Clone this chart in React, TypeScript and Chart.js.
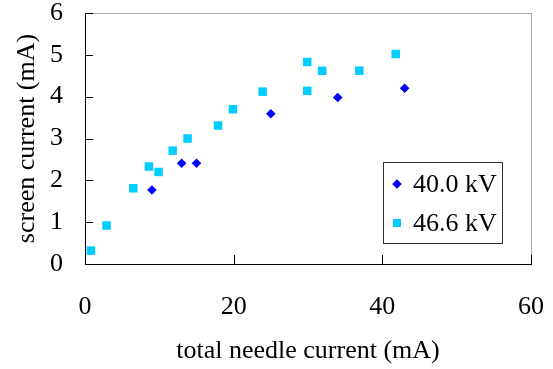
import React, { useEffect, useRef } from "react";
import { Chart, registerables } from "chart.js";

Chart.register(...registerables);

const series40x = [9, 13, 15, 25, 34, 43];
const series40y = [1.77, 2.41, 2.41, 3.59, 3.98, 4.2];
const series466x = [0.8, 2.9, 6.5, 8.6, 9.9, 11.8, 13.8, 17.9, 19.9, 23.9, 29.9, 29.9, 31.9, 36.9, 41.8];
const series466y = [0.32, 0.92, 1.81, 2.33, 2.2, 2.71, 3.0, 3.31, 3.7, 4.12, 4.83, 4.14, 4.62, 4.62, 5.02];
const seriesLabels = ["40.0 kV", "46.6 kV"];
const xTicks = [0, 20, 40, 60];
const yTicks = [0, 1, 2, 3, 4, 5, 6];
const xTitle = "total needle current (mA)";
const yTitle = "screen current (mA)";

const FONT = "'Liberation Serif', 'Times New Roman', serif";
const BLUE = "#0000FF";
const CYAN = "#00CCFF";

const framePlugin = {
  id: "frame",
  afterDatasetsDraw(chart: any) {
    const { ctx, chartArea: a, scales } = chart;
    const xs = scales.x;
    const ys = scales.y;
    ctx.save();
    ctx.lineWidth = 1;
    ctx.strokeStyle = "#aaaaaa";
    ctx.beginPath();
    ctx.moveTo(a.left, a.top + 0.5);
    ctx.lineTo(a.right + 0.5, a.top + 0.5);
    ctx.lineTo(a.right + 0.5, a.bottom);
    ctx.stroke();
    ctx.strokeStyle = "#000000";
    ctx.beginPath();
    ctx.moveTo(a.left + 0.5, a.top);
    ctx.lineTo(a.left + 0.5, a.bottom + 0.5);
    ctx.lineTo(a.right + 1, a.bottom + 0.5);
    ctx.stroke();
    ctx.beginPath();
    yTicks.forEach((v) => {
      const py = Math.round(ys.getPixelForValue(v)) + 0.5;
      ctx.moveTo(a.left, py);
      ctx.lineTo(a.left + 8, py);
    });
    xTicks.forEach((v) => {
      const px = Math.round(xs.getPixelForValue(v)) + 0.5;
      ctx.moveTo(px, a.bottom);
      ctx.lineTo(px, a.bottom - 9);
    });
    ctx.stroke();

    const lx = 383, ly = 162, lw = 119, lh = 81;
    ctx.strokeStyle = "#333333";
    ctx.strokeRect(lx + 0.5, ly + 0.5, lw, lh);
    ctx.font = `26px ${FONT}`;
    ctx.textBaseline = "middle";
    ctx.textAlign = "left";
    const rows = [ly + 22, ly + 61];
    chart.data.datasets.forEach((ds: any, i: number) => {
      const cy = rows[i];
      const cx = lx + 14;
      ctx.fillStyle = ds.backgroundColor;
      ctx.beginPath();
      if (ds.pointStyle === "rectRot") {
        const r = 4.8;
        ctx.moveTo(cx - r, cy);
        ctx.lineTo(cx, cy - r);
        ctx.lineTo(cx + r, cy);
        ctx.lineTo(cx, cy + r);
        ctx.closePath();
      } else {
        ctx.rect(cx - 4, cy - 4, 8, 8);
      }
      ctx.fill();
      ctx.fillStyle = "#000000";
      ctx.fillText(ds.label, lx + 30, cy + 1);
    });
    ctx.restore();
  },
};

export default function App() {
  const ref = useRef<HTMLCanvasElement>(null);
  useEffect(() => {
    const canvas = ref.current!;
    const chart = new Chart(canvas, {
      type: "scatter",
      data: {
        datasets: [
          {
            label: seriesLabels[0],
            data: series40x.map((x, i) => ({ x, y: series40y[i] })),
            pointStyle: "rectRot",
            backgroundColor: BLUE,
            borderColor: BLUE,
            borderWidth: 0,
            pointRadius: 4.8,
          },
          {
            label: seriesLabels[1],
            data: series466x.map((x, i) => ({ x, y: series466y[i] })),
            pointStyle: "rect",
            backgroundColor: CYAN,
            borderColor: CYAN,
            borderWidth: 0,
            pointRadius: 6,
          },
        ],
      },
      options: {
        animation: false,
        responsive: false,
        maintainAspectRatio: false,
        layout: { padding: { top: 13, right: 22, left: 0, bottom: 0 } },
        plugins: {
          legend: { display: false },
          tooltip: { enabled: false },
        },
        scales: {
          x: {
            type: "linear",
            min: 0,
            max: 60,
            afterBuildTicks: (s: any) => {
              s.ticks = xTicks.map((v) => ({ value: v }));
            },
            afterFit: (s: any) => {
              s.height = 105;
              s.paddingLeft = 0;
              s.paddingRight = 0;
            },
            grid: { display: false, drawTicks: false },
            border: { display: false },
            ticks: {
              color: "#000",
              font: { family: FONT, size: 26 },
              padding: 28,
              maxRotation: 0,
            },
            title: {
              display: true,
              text: xTitle,
              color: "#000",
              font: { family: FONT, size: 26 },
              padding: { top: 0, bottom: 2 },
            },
          },
          y: {
            type: "linear",
            min: 0,
            max: 6,
            afterBuildTicks: (s: any) => {
              s.ticks = yTicks.map((v) => ({ value: v }));
            },
            afterFit: (s: any) => {
              s.width = 85;
              s.paddingTop = 0;
              s.paddingBottom = 0;
            },
            grid: { display: false, drawTicks: false },
            border: { display: false },
            ticks: {
              color: "#000",
              font: { family: FONT, size: 26 },
              padding: 22,
            },
            title: {
              display: true,
              text: yTitle,
              color: "#000",
              font: { family: FONT, size: 26 },
              padding: { top: 12, bottom: 0 },
            },
          },
        },
      },
      plugins: [framePlugin],
    });
    return () => chart.destroy();
  }, []);
  return (
    <div style={{ position: "fixed", left: 0, top: 0, width: 553, height: 369, background: "#fff" }}>
      <canvas ref={ref} width={553} height={369} style={{ width: 553, height: 369, display: "block" }} />
    </div>
  );
}
